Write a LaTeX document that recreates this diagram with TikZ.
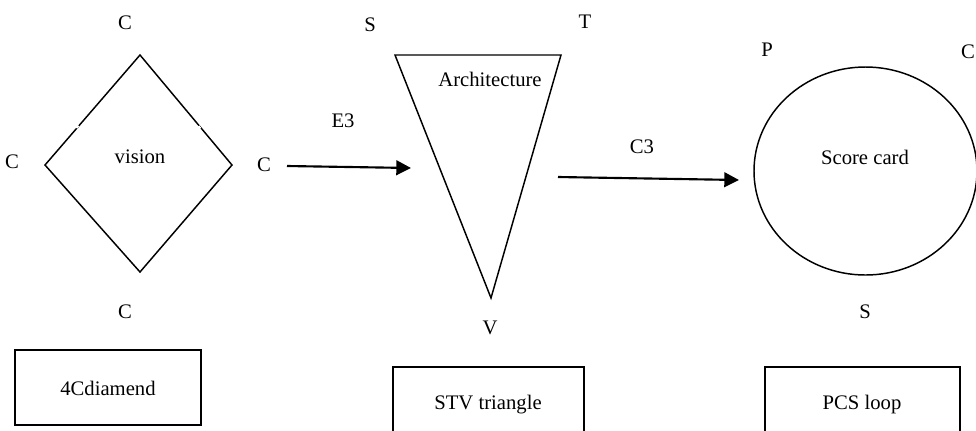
\documentclass[tikz,border=0pt]{standalone}
\usepackage{fontspec}
\setmainfont{Liberation Serif}
\newfontfamily\timesfont{Liberation Serif}
\usetikzlibrary{arrows.meta,shapes.geometric}
\begin{document}
\begin{tikzpicture}[x=0.75pt,y=-0.75pt,
  font=\timesfont\fontsize{15.5}{18}\selectfont,
  line width=1.1pt,
  lbl/.style={inner sep=0pt},
  arr/.style={-{Triangle[length=11pt,width=11pt]}, line width=1.6pt}]
\useasboundingbox (0,0) rectangle (976,430);
% diamond
\coordinate (dT) at (140,55);
\coordinate (dL) at (45,165);
\coordinate (dR) at (232,165);
\coordinate (dB) at (140,272);
\draw (dT) -- (dR) -- (dB) -- (dL) -- cycle;
\draw[white, line width=1.4pt] (76.5,128) -- (78.5,125.7);
\draw[white, line width=1.4pt] (198.5,126) -- (200.5,128.3);
\node[lbl] (vision) at (140,157) {vision};
\node[lbl] (cTop) at (125,23) {C};
\node[lbl] (cLeft) at (12,162) {C};
\node[lbl] (cRight) at (264,165) {C};
\node[lbl] (cBot) at (125,312) {C};
% triangle
\coordinate (tL) at (395,55);
\coordinate (tR) at (561,55);
\coordinate (tB) at (491,298);
\draw (tL) -- (tR) -- (tB) -- cycle;
\node[lbl] (arch) at (490,79) {Architecture};
\node[lbl] (sLbl) at (370,25) {S};
\node[lbl] (tLbl) at (585,22) {T};
\node[lbl] (vLbl) at (490,328) {V};
% circle
\node[draw, ellipse, inner sep=0pt, minimum width=167.25pt, minimum height=156pt] (circ) at (865.5,171) {};
\node[lbl] (score) at (865,157) {Score card};
\node[lbl] (pLbl) at (767,50) {P};
\node[lbl] (cLbl) at (968,52) {C};
\node[lbl] (sLbl2) at (865,312) {S};
% arrows
\coordinate (a1s) at (287,166);
\coordinate (a1e) at (411,168);
\draw[arr] (a1s) -- (a1e);
\node[lbl] (e3) at (343,121) {E3};
\coordinate (a2s) at (558,177);
\coordinate (a2e) at (739,180);
\draw[arr] (a2s) -- (a2e);
\node[lbl] (c3) at (642,147) {C3};
% boxes
\draw (15,350) rectangle (201,425);
\node[lbl] (b1) at (108,388) {4Cdiamend};
\draw (393,432) -- (393,367) -- (584,367) -- (584,432);
\node[lbl] (b2) at (488,405) {STV triangle};
\draw (765,432) -- (765,367) -- (960,367) -- (960,432);
\node[lbl] (b3) at (862,405) {PCS loop};
\end{tikzpicture}
\end{document}
